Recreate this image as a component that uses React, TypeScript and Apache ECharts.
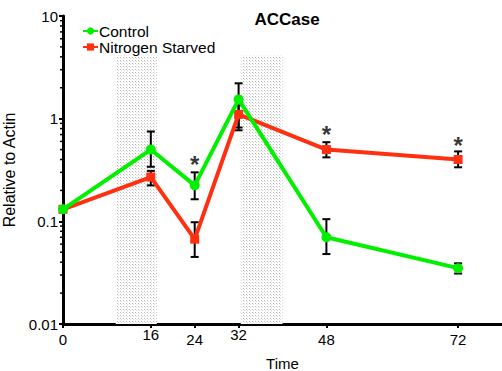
import React, { useEffect, useRef } from "react";
import * as echarts from "echarts";

// Sampling times (h)
const times = [0, 16, 24, 32, 48, 72];
// Transcript level relative to actin
const controlMean = [0.131, 0.5, 0.224, 1.54, 0.07, 0.035];
const controlLow = [0.131, 0.34, 0.164, 0.82, 0.048, 0.031];
const controlHigh = [0.131, 0.75, 0.3, 2.21, 0.105, 0.039];
const starvedMean = [0.131, 0.27, 0.067, 1.1, 0.5, 0.4];
const starvedLow = [0.131, 0.224, 0.045, 0.77, 0.42, 0.336];
const starvedHigh = [0.131, 0.31, 0.098, 1.35, 0.59, 0.48];
// Significance markers
const starTimes = [24, 48, 72];
const starLevels = [0.41, 0.8, 0.63];
// Dark periods shown as dotted bands
const darkStart = [9.6, 32.4];
const darkEnd = [17.1, 40];
const darkTop = 4.13;
// X tick labels and the ones drawn raised
const xTicks = [0, 16, 24, 32, 48, 72];
const raisedTicks = [16, 32];
// Y ticks
const yTicks = [0.01, 0.1, 1, 10];
const minorMultipliers = [2, 3, 4, 5, 6, 7, 8, 9];

const FONT = '"Liberation Sans", Arial, Helvetica, sans-serif';
const GREEN = "#00f000";
const RED = "#ff3010";

function makeDotPattern(): HTMLCanvasElement {
  const c = document.createElement("canvas");
  c.width = 3;
  c.height = 3;
  const ctx = c.getContext("2d")!;
  ctx.fillStyle = "#ffffff";
  ctx.fillRect(0, 0, 3, 3);
  ctx.fillStyle = "#b8b8b8";
  ctx.fillRect(0, 0, 1, 1);
  ctx.fillStyle = "#dcdcdc";
  ctx.fillRect(1, 1, 1, 1);
  return c;
}

export default function App() {
  const ref = useRef<HTMLDivElement>(null);

  useEffect(() => {
    if (!ref.current) return;
    const chart = echarts.init(ref.current, null, { renderer: "svg" });

    const errData = (lo: number[], hi: number[]) =>
      times.map((t, i) => [t, lo[i], hi[i]]);

    const errorRender = (params: any, api: any) => {
      const x = api.value(0);
      const lo = api.coord([x, api.value(1)]);
      const hi = api.coord([x, api.value(2)]);
      if (Math.abs(lo[1] - hi[1]) < 1) return { type: "group", children: [] };
      const w = 4;
      const style = { stroke: "#000", lineWidth: 2 };
      return {
        type: "group",
        children: [
          { type: "line", shape: { x1: lo[0], y1: lo[1], x2: hi[0], y2: hi[1] }, style },
          { type: "line", shape: { x1: lo[0] - w, y1: lo[1], x2: lo[0] + w, y2: lo[1] }, style },
          { type: "line", shape: { x1: hi[0] - w, y1: hi[1], x2: hi[0] + w, y2: hi[1] }, style },
        ],
      };
    };

    const minorValues: number[] = [];
    for (let k = 0; k < yTicks.length - 1; k++) {
      for (const m of minorMultipliers) minorValues.push(yTicks[k] * m);
    }

    const pattern = { image: makeDotPattern(), repeat: "repeat" };

    chart.setOption({
      animation: false,
      backgroundColor: "#ffffff",
      title: {
        text: "ACCase",
        left: 282,
        top: 6,
        textAlign: "center",
        textStyle: { fontFamily: FONT, fontSize: 17, fontWeight: "bold", color: "#000" },
      },
      legend: {
        orient: "vertical",
        left: 77,
        top: 18,
        itemGap: 0,
        itemWidth: 15,
        itemHeight: 9,
        data: ["Control", "Nitrogen Starved"],
        textStyle: { fontFamily: FONT, fontSize: 15.5, color: "#000", lineHeight: 15, padding: [0, 0, 0, -4] },
      },
      grid: { left: 63, right: 0, top: 16, bottom: 47, containLabel: false, outerBoundsMode: "none" },
      xAxis: {
        type: "value",
        min: 0,
        max: 80,
        name: "Time",
        nameLocation: "middle",
        nameGap: 32,
        nameTextStyle: { fontFamily: FONT, fontSize: 15, color: "#000" },
        axisLine: { lineStyle: { color: "#000", width: 3 } },
        axisTick: { show: true, customValues: xTicks, length: 4, lineStyle: { color: "#000", width: 2 } },
        axisLabel: {
          customValues: xTicks,
          margin: 2,
          formatter: (v: number) =>
            raisedTicks.includes(v) ? `{up|${v}}` : `{n|${v}}`,
          rich: {
            n: { fontFamily: FONT, fontSize: 15, color: "#000", padding: [6, 0, 0, 0] },
            up: { fontFamily: FONT, fontSize: 15, color: "#000", padding: [1, 0, 0, 0] },
          },
        },
        splitLine: { show: false },
      },
      yAxis: {
        type: "log",
        logBase: 10,
        min: 0.01,
        max: 10,
        name: "Relative to Actin",
        nameLocation: "middle",
        nameGap: 40,
        nameTextStyle: { fontFamily: FONT, fontSize: 16, color: "#000" },
        axisLine: { show: true, lineStyle: { color: "#000", width: 3 } },
        axisTick: { show: true, length: 4, lineStyle: { color: "#000", width: 2 } },
        axisLabel: {
          fontFamily: FONT,
          fontSize: 15,
          color: "#000",
          margin: 5,
          formatter: (v: number) => String(v),
        },
        splitLine: { show: false },
      },
      series: [
        {
          name: "dark",
          type: "line",
          data: [],
          silent: true,
          markArea: {
            silent: true,
            itemStyle: { color: pattern as any },
            data: darkStart.map((s, i) => [
              { xAxis: s, yAxis: darkTop },
              { xAxis: darkEnd[i], yAxis: 0.01 },
            ]),
          },
        },
        {
          name: "minorTicks",
          type: "custom",
          silent: true,
          clip: false,
          data: minorValues.map((v) => [0, v]),
          renderItem: (params: any, api: any) => {
            const p = api.coord([api.value(0), api.value(1)]);
            return {
              type: "line",
              shape: { x1: p[0] - 3, y1: p[1], x2: p[0], y2: p[1] },
              style: { stroke: "#000", lineWidth: 1.5 },
            };
          },
        },
        {
          name: "Nitrogen Starved",
          type: "line",
          data: times.map((t, i) => [t, starvedMean[i]]),
          symbol: "rect",
          symbolSize: 9,
          showSymbol: true,
          color: RED,
          lineStyle: { color: RED, width: 4 },
          itemStyle: { color: RED },
          z: 3,
        },
        {
          name: "Control",
          type: "line",
          data: times.map((t, i) => [t, controlMean[i]]),
          symbol: "circle",
          symbolSize: 10,
          showSymbol: true,
          color: GREEN,
          lineStyle: { color: GREEN, width: 4 },
          itemStyle: { color: GREEN },
          z: 4,
        },
        {
          name: "starvedErr",
          type: "custom",
          silent: true,
          data: errData(starvedLow, starvedHigh),
          renderItem: errorRender,
          z: 2,
        },
        {
          name: "controlErr",
          type: "custom",
          silent: true,
          data: errData(controlLow, controlHigh),
          renderItem: errorRender,
          z: 2,
        },
        {
          name: "stars",
          type: "scatter",
          silent: true,
          symbolSize: 1,
          itemStyle: { color: "transparent" },
          data: starTimes.map((t, i) => [t, starLevels[i]]),
          label: {
            show: true,
            position: "inside",
            formatter: "*",
            fontFamily: FONT,
            fontWeight: "bold",
            fontSize: 24,
            color: "#000",
            offset: [0, 6],
          },
        },
      ],
    });

    return () => chart.dispose();
  }, []);

  return (
    <div
      ref={ref}
      style={{ width: 502, height: 371, position: "fixed", left: 0, top: 0 }}
    />
  );
}
